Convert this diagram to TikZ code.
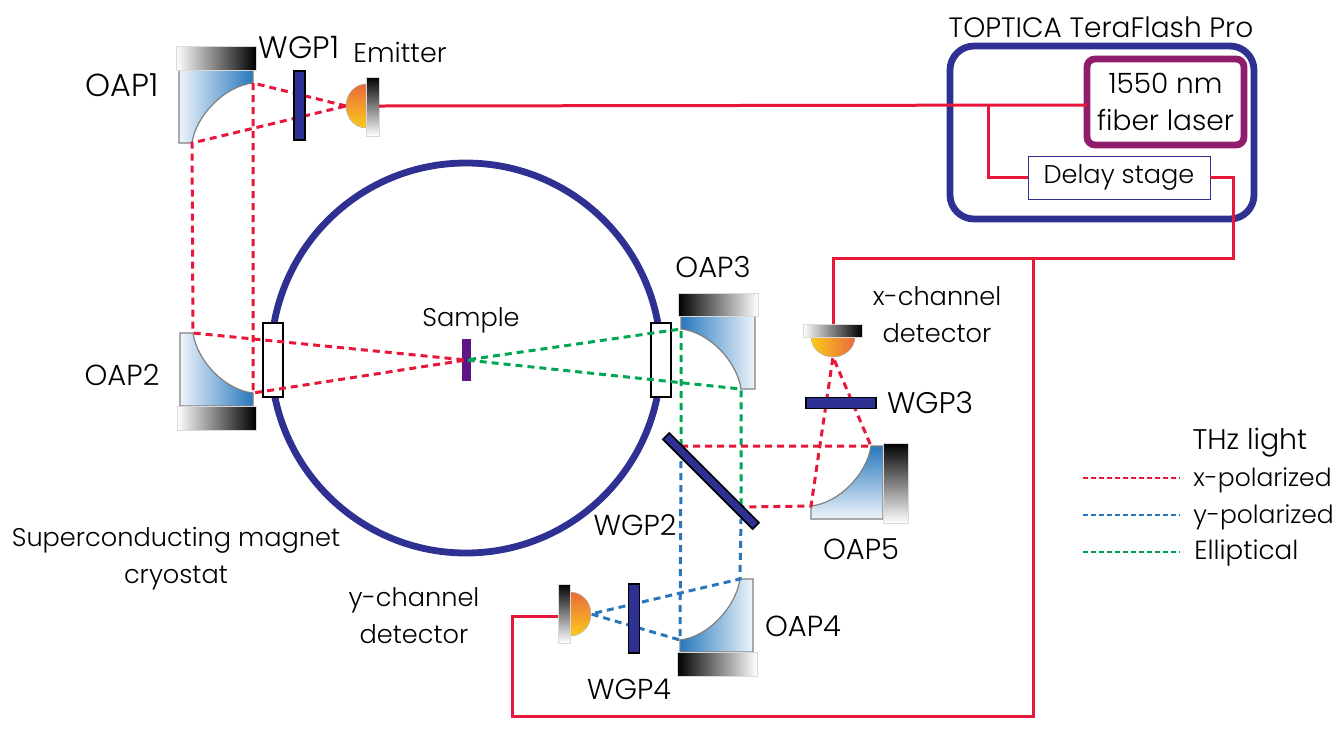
\documentclass[tikz,border=0pt]{standalone}
\usepackage{fontspec}
\setmainfont{Poppins}[UprightFont=* Light]
\definecolor{ringblue}{HTML}{2E3192}
\definecolor{laserpurple}{HTML}{8F1D6B}
\definecolor{fibrered}{HTML}{E8173A}
\definecolor{beamblue}{HTML}{2B75BB}
\definecolor{beamgreen}{HTML}{00A651}
\definecolor{mirrorblue}{HTML}{2878BE}
\definecolor{mirrormid}{HTML}{5F9ED6}
\definecolor{mirrorpale}{HTML}{EEF5FB}
\definecolor{hotred}{HTML}{E96A3C}
\definecolor{hotmid}{HTML}{F3A53A}
\definecolor{hotyellow}{HTML}{FBCB1A}
\tikzset{
  fibre/.style={fibrered, line width=1.5pt},
  xbeam/.style={fibrered, line width=1.5pt, dash pattern=on 3.5pt off 2.5pt},
  ybeam/.style={xbeam, beamblue},
  ebeam/.style={xbeam, beamgreen},
  legendline/.style={line width=1pt, dash pattern=on 2.5pt off 1.5pt},
  mirror/.style={draw=gray, line width=0.6pt},
  backing/.style={draw=black!15, line width=0.5pt},
  plate/.style={draw=black, fill=ringblue, line width=0.8pt, inner sep=0pt, outer sep=0pt},
  window/.style={draw=black, fill=white, line width=0.75pt, inner sep=0pt, outer sep=0pt,
    minimum width=10pt, minimum height=37pt},
  tag/.style={font=\fontsize{#1}{18.5}\selectfont, align=center, inner sep=0pt},
  tag/.default=12.8,
}
\begin{document}
\begin{tikzpicture}[x=0.5pt,y=-0.5pt]
\useasboundingbox (0,0) rectangle (1340,741);
% cryostat
\draw [ringblue, line width=3.4pt] (466,358) circle [radius=195pt*0.5];
\node (winleft) [window] at (273,360) {};
\node (winright) [window] at (661,360) {};
\node (sample) [plate, draw=none, fill=violet!60!ringblue, minimum width=4.5pt, minimum height=21pt] at (466.5,360) {};
% mirrors
\shade [mirror, left color=mirrorpale, middle color=mirrormid, right color=mirrorblue] (179,70) -- (253,70) -- (253,83)
  .. controls (225,86) and (196,115) .. (192,143) -- (179,143) -- cycle;
\shade [backing, left color=white, right color=black] (176,46) rectangle (256,70);
\shade [mirror, left color=mirrorpale, middle color=mirrormid, right color=mirrorblue] (180,333) -- (193,333)
  .. controls (197,361) and (225,390) .. (253,393) -- (253,406) -- (180,406) -- cycle;
\shade [backing, left color=white, right color=black] (177,406) rectangle (256,430);
\shade [mirror, left color=mirrorblue, middle color=mirrormid, right color=mirrorpale] (681,316) -- (755,316) -- (755,389) -- (741,389)
  .. controls (737,361) and (709,332) .. (681,329) -- cycle;
\shade [backing, left color=black, right color=white] (678,293) rectangle (758,316);
\shade [mirror, left color=mirrorblue, middle color=mirrormid, right color=mirrorpale] (740,579) -- (753,579) -- (753,652) -- (680,652) -- (680,640)
  .. controls (708,637) and (736,607) .. (740,579) -- cycle;
\shade [backing, left color=black, right color=white] (677,652) rectangle (757,676);
\shade [mirror, top color=mirrorblue, middle color=mirrormid, bottom color=mirrorpale] (871,446) -- (883,446) -- (883,519) -- (811,519) -- (811,506)
  .. controls (839,503) and (867,474) .. (871,446) -- cycle;
\shade [backing, top color=black, bottom color=white] (883,443) rectangle (908,523);
% emitter and detectors
\shade [draw=gray!60, line width=0.25pt, top color=hotred, middle color=hotmid, bottom color=hotyellow] (366,84)
  .. controls (355,84) and (346,94) .. (346,106) .. controls (346,118) and (355,128) .. (366,128) -- cycle;
\shade [backing, top color=black, bottom color=white] (366,77) rectangle (379,136);
\shade [draw=gray!60, line width=0.25pt, left color=hotyellow, middle color=hotmid, right color=hotred] (811,337)
  .. controls (811,348) and (821,357) .. (833,357) .. controls (845,357) and (855,348) .. (855,337) -- cycle;
\shade [backing, left color=white, right color=black] (803,324) rectangle (862,337);
\shade [draw=gray!60, line width=0.25pt, top color=hotred, middle color=hotmid, bottom color=hotyellow] (570,592)
  .. controls (582,592) and (591,602) .. (591,614) .. controls (591,626) and (582,636) .. (570,636) -- cycle;
\shade [backing, top color=black, bottom color=white] (558,584) rectangle (570,643);
% beam points
\coordinate (emitfocus) at (346,106);
\coordinate (oa1a) at (253,83);
\coordinate (oa1b) at (192,143);
\coordinate (oa2a) at (193,333);
\coordinate (oa2b) at (253,393);
\coordinate (focus) at (466,360);
\coordinate (oa3a) at (681,329);
\coordinate (oa3b) at (741,389);
\coordinate (splita) at (681,446);
\coordinate (splitb) at (741,507);
\coordinate (splitc) at (681,461);
\coordinate (splitd) at (741,519);
\coordinate (oa5a) at (871,446);
\coordinate (oa5b) at (811,506);
\coordinate (xfocus) at (833,357);
\coordinate (oa4a) at (740,579);
\coordinate (oa4b) at (680,640);
\coordinate (yfocus) at (591,614);
\draw [xbeam] (emitfocus) -- (oa1a) -- (oa2b) -- (focus) -- (oa2a) -- (oa1b) -- cycle;
\draw [ebeam] (splita) -- (oa3a) -- (focus) -- (oa3b) -- (splitb);
\draw [xbeam] (splita) -- (oa5a) -- (xfocus) -- (oa5b) -- (splitb);
\draw [ybeam] (splitc) -- (oa4b) -- (yfocus) -- (oa4a) -- (splitd);
% plates
\node (wgp1) [plate, minimum width=5.5pt, minimum height=34.5pt] at (299.5,105.5) {};
\node (wgp2) [plate, minimum width=63.5pt, minimum height=4.5pt, rotate=-45] at (711,481) {};
\node (wgp3) [plate, minimum width=35pt, minimum height=5.5pt] at (841,403) {};
\node (wgp4) [plate, minimum width=5.5pt, minimum height=34.5pt] at (634,618.5) {};
% laser system
\draw [ringblue, line width=3.4pt, rounded corners=12pt] (950,46) rectangle (1254,219);
\node (laser) [draw=laserpurple, line width=3.4pt, rounded corners=4pt, minimum width=78.5pt, minimum height=43pt,
  inner sep=0pt, outer sep=0pt, tag=14] at (1165.5,102) {1550 nm\\fiber laser};
\node (delay) [draw=ringblue, line width=0.5pt, minimum width=91pt, minimum height=21.5pt, inner sep=0pt,
  outer sep=0pt, tag] at (1119,177.5) {\raisebox{-0.5pt}{Delay stage}};
\coordinate (emitout) at (379,106);
\coordinate (xdetin) at (833,324);
\coordinate (ydetin) at (558,616);
\coordinate (branch) at (988,105);
\coordinate (tee) at (1033,258);
\draw [fibre] (emitout) -- (laser.west |- branch);
\draw [fibre] (branch) |- (delay.west);
\draw [fibre] (delay.east) -| (1233,258) -- (833,258) -- (xdetin);
\draw [fibre] (tee) -- (1033,716) -- (512,716) -- (512,616) -- (ydetin);
% labels
\node (oap1) [tag=15.9] at (122,85) {OAP1};
\node (oap2) [tag=14.5] at (122,375) {OAP2};
\node (oap3) [tag=14.5] at (713,267) {OAP3};
\node (oap4) [tag=14.5] at (803,626) {OAP4};
\node (oap5) [tag=14.5] at (861,549) {OAP5};
\node (labelwgp1) [tag=15.5] at (299,47) {WGP1};
\node (labelwgp2) [tag=14.4] at (635,525) {WGP2};
\node (labelwgp3) [tag=14.9] at (930,403) {WGP3};
\node (labelwgp4) [tag=14.4] at (629,689) {WGP4};
\node (emitter) [tag=13.5] at (400,52) {Emitter};
\node (samplelabel) [tag] at (471,320) {Sample};
\node (teraflash) [tag=14] at (1101,27) {TOPTICA TeraFlash Pro};
\node (xchannel) [tag] at (937,315) {x-channel\\detector};
\node (ychannel) [tag] at (414,616) {y-channel\\detector};
\node (magnet) [tag] at (176,559) {Superconducting magnet\\cryostat};
% legend
\node (thz) [tag=14.2] at (1250,443) {THz light};
\node (xleg) [tag=12.5, anchor=west] at (1193,480) {x-polarized};
\node (yleg) [tag=12.5, anchor=west] at (1193,517) {y-polarized};
\node (eleg) [tag=13.1, anchor=west] at (1194,553) {Elliptical};
\draw [xbeam, legendline] (1083,478) -- (1180,478);
\draw [ybeam, legendline] (1083,515) -- (1180,515);
\draw [ebeam, legendline] (1083,552) -- (1180,552);
\end{tikzpicture}
\end{document}
